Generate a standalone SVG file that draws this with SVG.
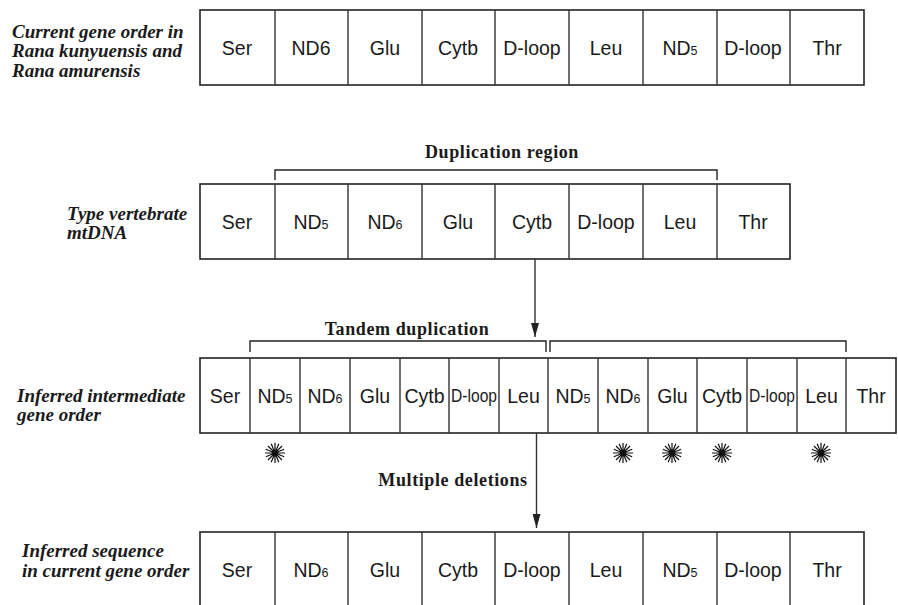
<svg xmlns="http://www.w3.org/2000/svg" width="898" height="605" viewBox="0 0 898 605">
<style>
.box{fill:#fff;stroke:#222;stroke-width:1.6}
.g{font-family:"Liberation Sans","DejaVu Sans",sans-serif;font-size:19.5px;fill:#1a1a1a;text-anchor:middle}
.s{font-size:12.5px}
.c{font-size:18px}
.lab{font-family:"Liberation Serif","DejaVu Serif",serif;font-size:19px;font-weight:bold;font-style:italic;fill:#1a1a1a}
.hd{font-family:"Liberation Serif","DejaVu Serif",serif;font-size:18px;font-weight:bold;fill:#1a1a1a;text-anchor:middle;letter-spacing:0.6px}
.br{fill:none;stroke:#222;stroke-width:1.4}
.ln{fill:none;stroke:#333;stroke-width:1.4}
.star{stroke:#111;stroke-width:1.2;fill:none}
</style>
<defs>
<marker id="ah" markerWidth="14" markerHeight="8" refX="14" refY="4" orient="auto" markerUnits="userSpaceOnUse" viewBox="0 0 14 8">
<path d="M0,0 L14,4 L0,8 Z" fill="#222"/>
</marker>
<g id="starShape">
<path class="star" d="M-10,0H10M0,-10V10M-7,-7L7,7M-7,7L7,-7M-9.2,-3.8L9.2,3.8M-9.2,3.8L9.2,-3.8M-3.8,-9.2L3.8,9.2M3.8,-9.2L-3.8,9.2"/>
<circle r="2.5" fill="#111"/>
</g>
</defs>

<!-- Row 1 -->
<g id="row1">
<text class="lab" x="12" y="37.5">Current gene order in</text>
<text class="lab" x="12" y="57">Rana kunyuensis and</text>
<text class="lab" x="12" y="76.5">Rana amurensis</text>
<rect class="box" x="200" y="10" width="664" height="75"/>
<path class="ln" d="M275,10V85M348,10V85M422,10V85M495,10V85M569,10V85M643,10V85M717,10V85M790,10V85"/>
<text class="g" x="237" y="54.5">Ser</text>
<text class="g" x="311" y="54.5">ND6</text>
<text class="g" x="385" y="54.5">Glu</text>
<text class="g" x="458" y="54.5">Cytb</text>
<text class="g" x="532" y="54.5">D-loop</text>
<text class="g" x="606" y="54.5">Leu</text>
<text class="g" x="680" y="54.5">ND<tspan class="s">5</tspan></text>
<text class="g" x="753" y="54.5">D-loop</text>
<text class="g" x="827" y="54.5">Thr</text>
</g>

<!-- Row 2 -->
<g id="row2">
<text class="lab" x="67" y="220">Type vertebrate</text>
<text class="lab" x="67" y="239">mtDNA</text>
<rect class="box" x="200" y="184" width="590" height="75"/>
<path class="ln" d="M275,184V259M348,184V259M422,184V259M495,184V259M569,184V259M643,184V259M717,184V259"/>
<text class="g" x="237" y="228.5">Ser</text>
<text class="g" x="311" y="228.5">ND<tspan class="s">5</tspan></text>
<text class="g" x="385" y="228.5">ND<tspan class="s">6</tspan></text>
<text class="g" x="458" y="228.5">Glu</text>
<text class="g" x="532" y="228.5">Cytb</text>
<text class="g" x="606" y="228.5">D-loop</text>
<text class="g" x="680" y="228.5">Leu</text>
<text class="g" x="753" y="228.5">Thr</text>
</g>

<g id="dupRegion">
<text class="hd" x="502" y="158">Duplication region</text>
<path class="br" d="M275,180V170H717V180"/>
</g>

<!-- Row 3 -->
<g id="row3">
<text class="lab" x="17" y="402">Inferred intermediate</text>
<text class="lab" x="17" y="421">gene order</text>
<rect class="box" x="200" y="358" width="696" height="75"/>
<path class="ln" d="M250,358V433M300,358V433M350,358V433M400,358V433M449,358V433M499,358V433M548,358V433M598,358V433M648,358V433M697,358V433M747,358V433M797,358V433M846,358V433"/>
<text class="g" x="225" y="402.5">Ser</text>
<text class="g" x="275" y="402.5">ND<tspan class="s">5</tspan></text>
<text class="g" x="325" y="402.5">ND<tspan class="s">6</tspan></text>
<text class="g" x="375" y="402.5">Glu</text>
<text class="g" x="424.5" y="402.5">Cytb</text>
<text class="g c" x="474" y="402" textLength="46" lengthAdjust="spacingAndGlyphs">D-loop</text>
<text class="g" x="523.5" y="402.5">Leu</text>
<text class="g" x="573" y="402.5">ND<tspan class="s">5</tspan></text>
<text class="g" x="623" y="402.5">ND<tspan class="s">6</tspan></text>
<text class="g" x="672.5" y="402.5">Glu</text>
<text class="g" x="722" y="402.5">Cytb</text>
<text class="g c" x="772" y="402" textLength="46" lengthAdjust="spacingAndGlyphs">D-loop</text>
<text class="g" x="821.5" y="402.5">Leu</text>
<text class="g" x="871" y="402.5">Thr</text>
</g>

<g id="tandem">
<text class="hd" x="407" y="335">Tandem duplication</text>
<path class="br" d="M250,352V341H546V352"/>
<path class="br" d="M550,352V341H846V352"/>
</g>

<g id="stars">
<use href="#starShape" x="275" y="453"/>
<use href="#starShape" x="623" y="453"/>
<use href="#starShape" x="672" y="453"/>
<use href="#starShape" x="722" y="453"/>
<use href="#starShape" x="821" y="453"/>
</g>

<g id="deletions">
<text class="hd" x="453" y="486">Multiple deletions</text>
</g>

<!-- Row 4 -->
<g id="row4">
<text class="lab" x="22" y="557">Inferred sequence</text>
<text class="lab" x="22" y="577">in current gene order</text>
<rect class="box" x="200" y="532" width="664" height="80"/>
<path class="ln" d="M275,532V612M348,532V612M422,532V612M495,532V612M569,532V612M643,532V612M717,532V612M790,532V612"/>
<text class="g" x="237" y="577">Ser</text>
<text class="g" x="311" y="577">ND<tspan class="s">6</tspan></text>
<text class="g" x="385" y="577">Glu</text>
<text class="g" x="458" y="577">Cytb</text>
<text class="g" x="532" y="577">D-loop</text>
<text class="g" x="606" y="577">Leu</text>
<text class="g" x="680" y="577">ND<tspan class="s">5</tspan></text>
<text class="g" x="753" y="577">D-loop</text>
<text class="g" x="827" y="577">Thr</text>
</g>

<g id="connectors">
<line class="ln" x1="535" y1="259" x2="535" y2="337" marker-end="url(#ah)"/>
<line class="ln" x1="536.5" y1="433" x2="536.5" y2="528" marker-end="url(#ah)"/>
</g>
</svg>
